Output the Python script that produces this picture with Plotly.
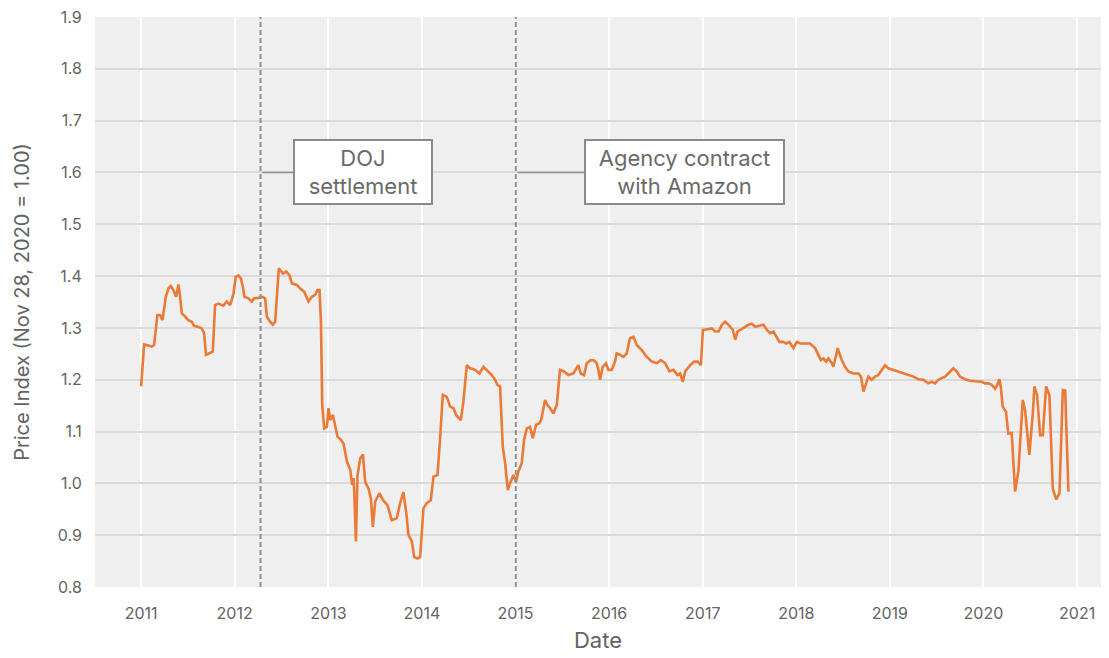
import pandas as pd
import plotly.graph_objects as go

# Time positions (decimal years) and price index values
t_years = [
    2011.000, 2011.032, 2011.078, 2011.114, 2011.139, 2011.174, 2011.203, 2011.228, 2011.264, 2011.292,
    2011.317, 2011.345, 2011.374, 2011.399, 2011.417, 2011.435, 2011.470, 2011.505, 2011.542, 2011.566,
    2011.612, 2011.648, 2011.673, 2011.694, 2011.730, 2011.766, 2011.791, 2011.826, 2011.879, 2011.916,
    2011.951, 2011.986, 2012.012, 2012.040, 2012.065, 2012.087, 2012.104, 2012.146, 2012.183, 2012.207,
    2012.253, 2012.300, 2012.325, 2012.343, 2012.378, 2012.407, 2012.432, 2012.450, 2012.471, 2012.514,
    2012.549, 2012.584, 2012.610, 2012.663, 2012.699, 2012.741, 2012.787, 2012.824, 2012.859, 2012.884,
    2012.905, 2012.920, 2012.934, 2012.955, 2012.984, 2013.001, 2013.019, 2013.048, 2013.073, 2013.097,
    2013.134, 2013.161, 2013.198, 2013.233, 2013.254, 2013.268, 2013.276, 2013.294, 2013.311, 2013.340,
    2013.369, 2013.393, 2013.428, 2013.454, 2013.475, 2013.500, 2013.546, 2013.582, 2013.631, 2013.678,
    2013.732, 2013.767, 2013.802, 2013.831, 2013.856, 2013.892, 2013.917, 2013.952, 2013.981, 2014.016,
    2014.052, 2014.095, 2014.123, 2014.166, 2014.194, 2014.223, 2014.266, 2014.301, 2014.337, 2014.365,
    2014.416, 2014.443, 2014.480, 2014.515, 2014.568, 2014.614, 2014.657, 2014.693, 2014.747, 2014.782,
    2014.806, 2014.835, 2014.864, 2014.889, 2014.907, 2014.918, 2014.942, 2014.978, 2015.006, 2015.031,
    2015.067, 2015.092, 2015.121, 2015.156, 2015.185, 2015.220, 2015.255, 2015.274, 2015.316, 2015.341,
    2015.370, 2015.405, 2015.441, 2015.476, 2015.519, 2015.565, 2015.619, 2015.672, 2015.698, 2015.733,
    2015.762, 2015.804, 2015.840, 2015.869, 2015.886, 2015.904, 2015.933, 2015.968, 2015.993, 2016.029,
    2016.064, 2016.082, 2016.118, 2016.153, 2016.189, 2016.224, 2016.260, 2016.296, 2016.349, 2016.403,
    2016.456, 2016.510, 2016.552, 2016.598, 2016.644, 2016.687, 2016.729, 2016.758, 2016.787, 2016.812,
    2016.865, 2016.908, 2016.943, 2016.980, 2017.001, 2017.050, 2017.097, 2017.132, 2017.168, 2017.204,
    2017.239, 2017.275, 2017.322, 2017.346, 2017.371, 2017.400, 2017.428, 2017.453, 2017.488, 2017.525,
    2017.560, 2017.606, 2017.649, 2017.685, 2017.720, 2017.755, 2017.784, 2017.819, 2017.856, 2017.891,
    2017.926, 2017.969, 2018.005, 2018.041, 2018.094, 2018.147, 2018.201, 2018.236, 2018.262, 2018.290,
    2018.318, 2018.343, 2018.379, 2018.396, 2018.425, 2018.443, 2018.460, 2018.486, 2018.521, 2018.557,
    2018.610, 2018.664, 2018.692, 2018.717, 2018.746, 2018.770, 2018.806, 2018.842, 2018.877, 2018.913,
    2018.949, 2018.984, 2019.038, 2019.091, 2019.144, 2019.198, 2019.251, 2019.305, 2019.358, 2019.411,
    2019.447, 2019.483, 2019.518, 2019.554, 2019.590, 2019.625, 2019.678, 2019.715, 2019.750, 2019.803,
    2019.857, 2019.910, 2019.982, 2020.017, 2020.052, 2020.089, 2020.124, 2020.149, 2020.170, 2020.185,
    2020.206, 2020.241, 2020.266, 2020.302, 2020.319, 2020.338, 2020.373, 2020.420, 2020.444, 2020.490,
    2020.527, 2020.544, 2020.573, 2020.605, 2020.633, 2020.669, 2020.704, 2020.740, 2020.776, 2020.811,
    2020.847, 2020.872, 2020.907,
]

price_index = [
    1.187, 1.268, 1.266, 1.264, 1.267, 1.325, 1.325, 1.315, 1.360, 1.376,
    1.381, 1.373, 1.360, 1.384, 1.360, 1.328, 1.322, 1.315, 1.312, 1.304,
    1.302, 1.299, 1.290, 1.248, 1.251, 1.254, 1.344, 1.347, 1.343, 1.351,
    1.344, 1.364, 1.399, 1.401, 1.396, 1.380, 1.360, 1.357, 1.351, 1.357,
    1.358, 1.360, 1.357, 1.322, 1.312, 1.306, 1.312, 1.364, 1.415, 1.405,
    1.409, 1.402, 1.386, 1.383, 1.376, 1.370, 1.351, 1.360, 1.364, 1.373,
    1.373, 1.312, 1.151, 1.106, 1.109, 1.145, 1.122, 1.132, 1.113, 1.090,
    1.084, 1.077, 1.042, 1.026, 0.997, 1.010, 0.984, 0.888, 1.016, 1.048,
    1.056, 1.003, 0.990, 0.971, 0.916, 0.965, 0.981, 0.968, 0.958, 0.929,
    0.933, 0.962, 0.983, 0.945, 0.900, 0.888, 0.858, 0.855, 0.858, 0.952,
    0.962, 0.968, 1.013, 1.016, 1.087, 1.171, 1.167, 1.148, 1.145, 1.132,
    1.122, 1.158, 1.228, 1.222, 1.219, 1.212, 1.225, 1.218, 1.209, 1.200,
    1.190, 1.187, 1.071, 1.039, 1.000, 0.987, 1.000, 1.016, 1.003, 1.023,
    1.039, 1.084, 1.106, 1.109, 1.087, 1.113, 1.116, 1.122, 1.161, 1.151,
    1.145, 1.135, 1.151, 1.219, 1.216, 1.209, 1.212, 1.228, 1.212, 1.209,
    1.232, 1.238, 1.237, 1.232, 1.219, 1.200, 1.225, 1.232, 1.219, 1.219,
    1.235, 1.251, 1.248, 1.244, 1.251, 1.280, 1.283, 1.267, 1.257, 1.244,
    1.235, 1.232, 1.238, 1.232, 1.216, 1.219, 1.209, 1.212, 1.196, 1.216,
    1.228, 1.235, 1.235, 1.228, 1.296, 1.297, 1.299, 1.293, 1.293, 1.306,
    1.312, 1.306, 1.296, 1.277, 1.293, 1.296, 1.299, 1.302, 1.306, 1.308,
    1.302, 1.304, 1.306, 1.296, 1.290, 1.293, 1.283, 1.273, 1.273, 1.270,
    1.273, 1.261, 1.273, 1.270, 1.270, 1.270, 1.261, 1.248, 1.238, 1.241,
    1.235, 1.241, 1.232, 1.225, 1.244, 1.261, 1.251, 1.238, 1.225, 1.216,
    1.212, 1.212, 1.206, 1.177, 1.193, 1.206, 1.200, 1.206, 1.209, 1.219,
    1.228, 1.222, 1.219, 1.216, 1.212, 1.209, 1.206, 1.201, 1.200, 1.193,
    1.196, 1.193, 1.200, 1.203, 1.206, 1.212, 1.222, 1.216, 1.206, 1.201,
    1.198, 1.197, 1.196, 1.193, 1.193, 1.190, 1.183, 1.190, 1.201, 1.187,
    1.148, 1.138, 1.096, 1.097, 1.032, 0.984, 1.023, 1.161, 1.142, 1.055,
    1.135, 1.187, 1.170, 1.093, 1.093, 1.187, 1.170, 0.990, 0.969, 0.981,
    1.180, 1.179, 0.984,
]

event_dates = ["2012-04-11", "2015-01-02"]
event_labels = ["DOJ<br>settlement", "Agency contract<br>with Amazon"]
event_label_value = 1.6
event_label_offsets = [102, 169]
event_box_widths = [130, 191]

y_ticks = [0.8, 0.9, 1.0, 1.1, 1.2, 1.3, 1.4, 1.5, 1.6, 1.7, 1.8, 1.9]


def frac_to_date(t):
    y = int(t)
    start = pd.Timestamp(y, 1, 1)
    end = pd.Timestamp(y + 1, 1, 1)
    return start + (end - start) * (t - y)


dates = [frac_to_date(t) for t in t_years]

FONT = "Inter"
TEXT_GRAY = "#636363"

fig = go.Figure()
fig.add_trace(go.Scatter(
    x=dates, y=price_index, mode="lines",
    line=dict(color="#EA7A35", width=2.6),
    showlegend=False, hoverinfo="skip",
))

for d in event_dates:
    fig.add_shape(type="line", xref="x", yref="paper", x0=d, x1=d, y0=0, y1=1,
                  line=dict(color="#8f8f8f", width=2, dash="5px,3px"), layer="above")

for d, lab, off, w in zip(event_dates, event_labels, event_label_offsets, event_box_widths):
    fig.add_annotation(
        x=d, y=event_label_value, xref="x", yref="y",
        text=lab, showarrow=True, arrowhead=0, arrowwidth=1.5, arrowcolor="#8f8f8f",
        ax=off, ay=0, standoff=2,
        width=w, height=56,
        bordercolor="#8a8a8a", borderwidth=2, borderpad=3, bgcolor="#ffffff",
        font=dict(family=FONT, size=22, color="#6a6a6a"), align="center",
    )

# page body has an 8px margin, so the figure is drawn 8px in from the corner
fig.update_layout(
    width=1101, height=650,
    margin=dict(l=87, r=8, t=9, b=71),
    paper_bgcolor="white", plot_bgcolor="#efefef",
    font=dict(family=FONT, color=TEXT_GRAY),
    showlegend=False,
)

fig.update_xaxes(
    type="date", range=["2010-07-05", "2021-04-04"],
    tick0="2011-01-01", dtick="M12", tickformat="%Y",
    showgrid=True, gridcolor="#ffffff", gridwidth=2,
    zeroline=False, showline=False, automargin=False,
    ticks="outside", ticklen=12, tickcolor="rgba(0,0,0,0)",
    ticklabeloverflow="allow",
    tickfont=dict(family=FONT, size=16, color=TEXT_GRAY),
    title=dict(text="Date", font=dict(family=FONT, size=22, color=TEXT_GRAY), standoff=10),
)

fig.update_yaxes(
    range=[0.8, 1.9], tickvals=y_ticks, tickformat=".1f",
    showgrid=True, gridcolor="#dadada", gridwidth=2,
    zeroline=False, showline=False, automargin=False,
    ticks="outside", ticklen=9, tickcolor="rgba(0,0,0,0)",
    ticklabeloverflow="allow",
    tickfont=dict(family=FONT, size=16, color=TEXT_GRAY),
    title=dict(text="Price Index (Nov 28, 2020 = 1.00)",
               font=dict(family=FONT, size=20, color=TEXT_GRAY), standoff=22),
)

fig.write_html("out.html")
